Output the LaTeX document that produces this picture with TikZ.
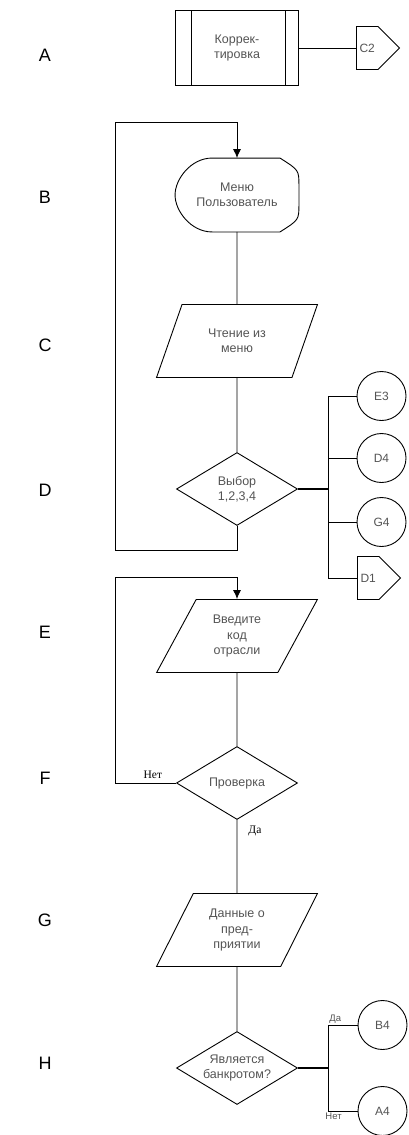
\documentclass[tikz,border=0pt]{standalone}
\usepackage{fontspec}
\setmainfont{Liberation Sans}
\newfontfamily\ruserif{Liberation Serif}
\usetikzlibrary{shapes.geometric,shapes.symbols,arrows.meta,positioning}
\definecolor{textgray}{rgb}{0.33,0.33,0.33}
\tikzstyle{base} = [draw, align=center, text=textgray, line width=0.9pt,
    font=\fontsize{12.5}{15.5}\selectfont]
\tikzstyle{predef} = [base, rectangle, minimum width=123pt, minimum height=75pt]
\tikzstyle{menubox} = [base, draw=none, rectangle, minimum width=123pt, minimum height=73pt]
\tikzstyle{io} = [base, trapezium, trapezium left angle=61, trapezium right angle=119,
    trapezium stretches=true, minimum width=161pt, minimum height=73pt, inner sep=0pt]
\tikzstyle{decision} = [base, diamond, aspect=1.64, minimum width=121pt,
    minimum height=73pt, inner sep=0pt]
\tikzstyle{conn} = [base, circle, minimum size=49pt, inner sep=0pt,
    font=\fontsize{12}{14}\selectfont]
\tikzstyle{offpage} = [base, signal, signal to=east, signal pointer angle=90,
    minimum width=43pt, minimum height=43pt, inner sep=0pt, anchor=west,
    font=\fontsize{12}{14}\selectfont]
\tikzstyle{rowlabel} = [font=\fontsize{18}{20}\selectfont]
\tikzstyle{yesno} = [font=\ruserif\fontsize{11.5}{13}\selectfont, inner sep=0pt]
\tikzset{
  myarrow/.style={-{Latex[length=9pt,width=8pt]}, line width=0.9pt},
  myline/.style={line width=0.9pt},
  busline/.style={line width=1.8pt},
  }

\begin{document}
\begin{tikzpicture}[x=1pt, y=1pt, node distance=147pt]
    \useasboundingbox (0,0) rectangle (409,-1135);
    % row letters
    \foreach \row/\y in {A/55,B/197,C/345,D/490,E/632,F/778,G/920,H/1063}
        \node[rowlabel](row\row) at (45,-\y){\row};
    % main column
    \node[predef](korr) at (237,-48){Коррек-\\тировка};
    \draw[myline]([xshift=16pt]korr.north west)--([xshift=16pt]korr.south west);
    \draw[myline]([xshift=-14pt]korr.north east)--([xshift=-14pt]korr.south east);
    \node[offpage](c2) at (356,-48){C2};
    \draw[myline](korr.east)--(c2.west);
    \node[menubox, below of=korr](menu){Меню\\Пользователь};
    \draw[myline]([xshift=37pt]menu.north west)--([xshift=-19pt]menu.north east)
        .. controls ([yshift=-12pt]menu.north east) .. ([yshift=9pt]menu.east)
        -- ([yshift=-9pt]menu.east)
        .. controls ([yshift=12pt]menu.south east) .. ([xshift=-19pt]menu.south east)
        -- ([xshift=37pt]menu.south west)
        .. controls ([xshift=16pt]menu.south west) and ([yshift=-16pt]menu.west) .. (menu.west)
        .. controls ([yshift=16pt]menu.west) and ([xshift=16pt]menu.north west) .. cycle;
    \node[io, below of=menu, yshift=1pt](read){Чтение из\\меню};
    \draw[myline](menu.south)--(read.north);
    \node[decision, below of=read, yshift=-1pt](choice){Выбор\\1,2,3,4};
    \draw[myline](read.south)--(choice.north);
    \coordinate(bl) at (115,-550);
    \coordinate(tl) at (115,-122);
    \draw[myarrow](choice.south)|-(bl)--(tl)-|(menu.north);
    % choice branches
    \coordinate(busD) at (328,-489);
    \draw[busline](choice.east)--(busD);
    \node[conn](e3) at (381.5,-396){E3};
    \node[conn](d4) at (381.5,-458){D4};
    \node[conn](g4) at (381.5,-522){G4};
    \node[offpage](d1) at (357,-578){D1};
    \foreach \target in {e3,d4,g4,d1}
        \draw[myline](busD)|-(\target.west);
    % input of branch code
    \node[io, below of=choice](code){Введите\\код\\отрасли};
    \node[decision, below of=code](check){Проверка};
    \draw[myline](code.south)--(check.north);
    \coordinate(el) at (115,-577);
    \draw[myarrow](check.west)-|node[pos=0.19, above, yshift=4pt, yesno]{Нет}(el)-|(code.north);
    \node[io, below of=check](data){Данные о\\пред-\\приятии};
    \draw[myline](check.south)--node[pos=0.15, anchor=west, xshift=11pt, yesno]{Да}(data.north);
    \node[decision, below of=data, yshift=9pt](bankrupt){Является\\банкротом?};
    \draw[myline](data.south)--(bankrupt.north);
    % bankrupt branches
    \coordinate(busH) at (328,-1068);
    \draw[busline](bankrupt.east)--(busH);
    \node[conn](b4) at (382.5,-1025){B4};
    \node[conn](a4) at (382.5,-1111){A4};
    \draw[myline](busH)|-node[pos=0.5, above right, inner sep=1pt, font=\fontsize{9.5}{10}\selectfont, text=textgray]{Да}(b4.west);
    \draw[myline](busH)|-node[pos=0.5, below right, inner sep=1pt, xshift=-4pt, font=\fontsize{9.5}{10}\selectfont, text=textgray]{Нет}(a4.west);
\end{tikzpicture}
\end{document}
